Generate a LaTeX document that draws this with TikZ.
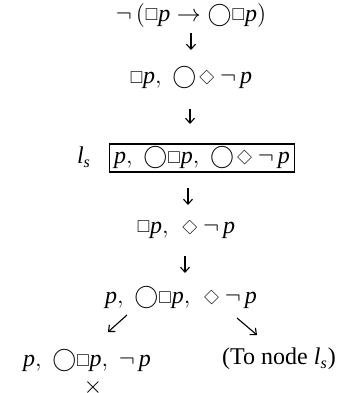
\documentclass[tikz,border=0pt]{standalone}
\usepackage{amssymb}
\usepackage{graphicx}
\usepackage{fontspec}
\setmainfont{Liberation Serif}
\usetikzlibrary{arrows.meta,calc}
\newcommand{\Bx}{\mathord{\raisebox{0.2pt}{\scalebox{0.72}{$\Box$}}}}
\newcommand{\Dm}{\mathord{\mkern2mu\vcenter{\hbox{\rotatebox[origin=c]{45}{\scalebox{0.64}{$\Box$}}}}\mkern1mu}}
\newcommand{\Ci}{\mathord{\bigcirc}}
\newcommand{\ip}{\mathit{p}}
\newcommand{\ls}{\mathit{l}_{\mathit{s}}}
\begin{document}
\begin{tikzpicture}[x=0.5pt,y=-0.5pt,
  font=\fontsize{12}{14}\selectfont,
  lbl/.style={inner sep=0pt},
  framed/.style={draw,line width=0.6pt,minimum height=14pt,inner ysep=0pt,inner xsep=2.5pt},
  arr/.style={-{Straight Barb[length=2.5pt,width=4.5pt]},line width=0.55pt}]
\useasboundingbox (0,0) rectangle (338,393);
\node[lbl] (r1) at (191,15) {$\neg\,(\Bx\ip\rightarrow\Ci\Bx\ip)$};
\node[lbl] (r2) at (191,78) {$\Bx\ip,\;\Ci\Dm\,\neg\,\ip$};
\node[framed] (box) at (202,158) {$\ip,\;\Ci\Bx\ip,\;\Ci\Dm\,\neg\,\ip$};
\node[lbl] (ls) at (84,157) {$\ls$};
\node[lbl] (r3) at (186,229) {$\Bx\ip,\;\Dm\,\neg\,\ip$};
\node[lbl] (r4) at (181,298) {$\ip,\;\Ci\Bx\ip,\;\Dm\,\neg\,\ip$};
\node[lbl] (r5) at (87,361) {$\ip,\;\Ci\Bx\ip,\;\neg\,\ip$};
\node[lbl] (to) at (279,359) {(To node $\ls$)};
\node[lbl] (x) at (93,387) {$\times$};
\draw[arr] ($(r1)+(0,18)$) -- ($(r1)+(0,35)$);
\draw[arr] ($(r2)+(-1,31)$) -- ($(r2)+(-1,46)$);
\draw[arr] ($(box)+(-14,30)$) -- ($(box)+(-14,47)$);
\draw[arr] ($(r3)+(-1,27)$) -- ($(r3)+(-1,44)$);
\draw[arr] ($(r4)+(-54,17)$) -- ($(r4)+(-73,34)$);
\draw[arr] ($(r4)+(56,20)$) -- ($(r4)+(76,37)$);
\end{tikzpicture}
\end{document}
